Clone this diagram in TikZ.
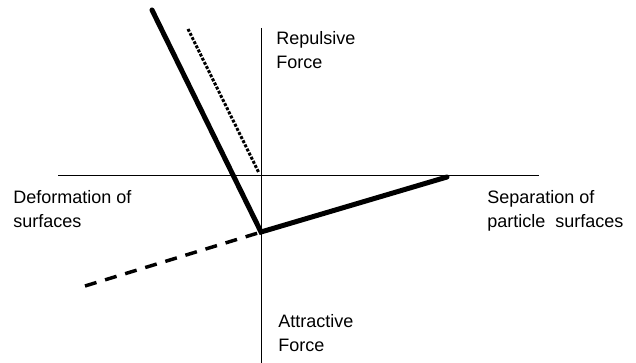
\documentclass[tikz,border=0pt]{standalone}
\usepackage{fontspec}
\setmainfont{Liberation Sans}
\usetikzlibrary{positioning}

\tikzset{
	axis/.style={line width=0.75pt},
	force/.style={line width=3.75pt,line cap=round,line join=miter},
	label/.style={anchor=north west,inner sep=0pt,align=left,
		font=\fontsize{13.5}{18.4}\selectfont}
}

\begin{document}
\begin{tikzpicture}[x=0.75pt,y=-0.75pt]
		\useasboundingbox (0,0) rectangle (636,363);
		
		% axes
		\coordinate (O) at (261,176);
		\coordinate (top) at (261,28);
		\coordinate (bottom) at (261,363);
		\coordinate (left) at (58,176);
		\coordinate (right) at (539,176);
		\draw[axis] (top) -- (bottom);
		\draw[axis] (left) -- (right);
		
		% force curve
		\coordinate (start) at (152,10);
		\coordinate (corner) at (261,232);
		\coordinate (end) at (447,177);
		\draw[force] (start) -- (corner) -- (end);
		
		% dotted and dashed lines
		\coordinate (dotstart) at (188,29);
		\coordinate (dotend) at (259,173);
		\draw[line width=2.25pt,dash pattern=on 2.25pt off 1.2pt] (dotstart) -- (dotend);
		\coordinate (dashstart) at (85,286);
		\coordinate (dashend) at (258,233);
		\draw[line width=2.6pt,dash pattern=on 9pt off 6.75pt] (dashstart) -- (dashend);
		
		% labels
		\node[label] (rep) at (276,31) {Repulsive\\Force};
		\node[label] (att) at (278,314) {Attractive\\Force};
		\node[label] (def) at (13,190) {Deformation of\\surfaces};
		\node[label] (sep) at (487,190) {Separation of\\particle\ \ surfaces};
		
	\end{tikzpicture}
\end{document}
